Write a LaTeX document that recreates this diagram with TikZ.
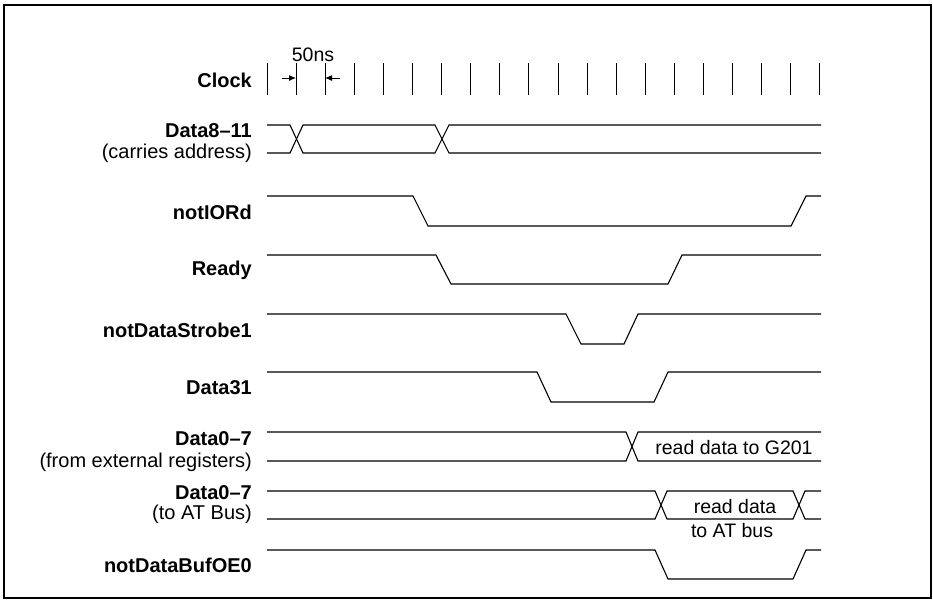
\documentclass[tikz,border=0pt]{standalone}
\usepackage{fontspec}
\setmainfont{Liberation Sans}
\usetikzlibrary{arrows.meta}
\tikzset{sig/.style={anchor=east,inner sep=0pt,font=\bfseries\fontsize{20}{22}\selectfont},sub/.style={anchor=east,inner sep=0pt,font=\fontsize{20}{22}\selectfont},note/.style={inner sep=0pt,font=\fontsize{19.5}{22}\selectfont},wave/.style={line width=1.1pt},tick/.style={line width=0.9pt},dim/.style={-{Latex[length=7pt,width=6pt]},line width=1pt}}
\begin{document}
\begin{tikzpicture}[x=1pt,y=-1pt]
\useasboundingbox (0,0) rectangle (933,600);
\draw[line width=1.3pt] (4,5) rectangle (931,598);
\node[sig] (clk) at (252,80) {Clock};
\node[note] (t50) at (313,55) {50ns};
\foreach \i in {0,...,19}{\draw[tick] ({267+29.1*\i},63)--({267+29.1*\i},95);}
\coordinate (ta) at (296,78); \coordinate (tb) at (325,78);
\draw[dim] (282,78)--(ta); \draw[dim] (340,78)--(tb);
\node[sig] (adr) at (252,131) {Data8--11};
\node[sub] (adrb) at (252,153) {(carries address)};
\node[sig] (iord) at (252,212) {notIORd};
\node[sig] (rdy) at (252,270) {Ready};
\node[sig] (strb) at (252,330) {notDataStrobe1};
\node[sig] (d31) at (252,388) {Data31};
\node[sig] (dext) at (252,439) {Data0--7};
\node[sub] (dextb) at (252,462) {(from external registers)};
\node[sig] (dat) at (252,493) {Data0--7};
\node[sub] (datb) at (252,514) {(to AT Bus)};
\node[sig] (oe) at (252,565) {notDataBufOE0};
% waveforms
\draw[wave] (267,125)--(290,125)--(303,153)--(435,153)--(449,125)--(821,125);
\draw[wave] (267,153)--(290,153)--(303,125)--(435,125)--(449,153)--(821,153);
\draw[wave] (267,196)--(413,196)--(428,226)--(791,226)--(806,196)--(821,196);
\draw[wave] (267,255)--(436,255)--(451,284)--(668,284)--(682,255)--(821,255);
\draw[wave] (267,314)--(566,314)--(581,344)--(624,344)--(638,314)--(821,314);
\draw[wave] (267,372)--(537,372)--(551,402)--(654,402)--(668,372)--(821,372);
\draw[wave] (267,432)--(626,432)--(638,461)--(821,461);
\draw[wave] (267,461)--(626,461)--(638,432)--(821,432);
\draw[wave] (267,491)--(655,491)--(667,519)--(793,519)--(805,491)--(821,491);
\draw[wave] (267,519)--(655,519)--(667,491)--(793,491)--(805,519)--(821,519);
\draw[wave] (267,550)--(655,550)--(668,579)--(793,579)--(806,550)--(821,550);
\node[note] (g201) at (734,448) {read data to G201};
\node[note] (atb) at (735,507) {read data};
\node[note] (atc) at (732,531) {to AT bus};
\end{tikzpicture}
\end{document}
